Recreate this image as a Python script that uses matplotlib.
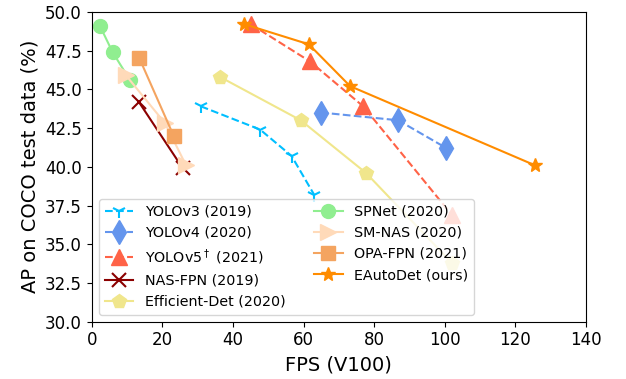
import matplotlib
matplotlib.use("Agg")
import matplotlib.pyplot as plt

# FPS / AP values
yolov3_fps = [30.9, 47.7, 56.6, 63.0]
yolov3_ap = [43.9, 42.4, 40.7, 38.2]
yolov4_fps = [64.9, 86.8, 100.5]
yolov4_ap = [43.5, 43.0, 41.2]
yolov5_fps = [45.0, 61.8, 76.9, 102.0]
yolov5_ap = [49.2, 46.8, 43.9, 36.9]
nasfpn_fps = [13.3, 25.8]
nasfpn_ap = [44.2, 39.9]
effdet_fps = [36.3, 59.2, 77.7, 102.0]
effdet_ap = [45.8, 43.0, 39.6, 33.8]
spnet_fps = [2.3, 5.9, 10.8]
spnet_ap = [49.1, 47.4, 45.6]
smnas_fps = [9.7, 20.8, 26.7]
smnas_ap = [45.9, 42.8, 40.1]
opafpn_fps = [13.5, 23.2]
opafpn_ap = [47.0, 42.0]
eautodet_fps = [43.2, 61.5, 73.2, 125.5]
eautodet_ap = [49.2, 47.9, 45.2, 40.1]

fig = plt.figure(figsize=(6.26, 3.79), dpi=100)
ax = fig.add_axes([0.1465, 0.151, 0.7895, 0.818])

ax.plot(yolov3_fps, yolov3_ap, '--', marker='1', color='deepskyblue', ms=10, mew=1.5, lw=1.5, label='YOLOv3 (2019)')
ax.plot(yolov4_fps, yolov4_ap, '--', marker='d', color='cornflowerblue', ms=12, lw=1.5, label='YOLOv4 (2020)')
ax.plot(yolov5_fps, yolov5_ap, '--', marker='^', color='tomato', ms=11, lw=1.5, label='YOLOv5$^\\dagger$ (2021)')
ax.plot(nasfpn_fps, nasfpn_ap, '-', marker='x', color='darkred', ms=10, mew=1.5, lw=1.5, label='NAS-FPN (2019)')
ax.plot(effdet_fps, effdet_ap, '-', marker='p', color='khaki', ms=10, lw=1.5, label='Efficient-Det (2020)')
ax.plot(spnet_fps, spnet_ap, '-', marker='o', color='lightgreen', ms=10, lw=1.5, label='SPNet (2020)')
ax.plot(smnas_fps, smnas_ap, '-', marker='>', color='peachpuff', ms=11, lw=1.5, label='SM-NAS (2020)')
ax.plot(opafpn_fps, opafpn_ap, '-', marker='s', color='sandybrown', ms=10, lw=1.5, label='OPA-FPN (2021)')
ax.plot(eautodet_fps, eautodet_ap, '-', marker='*', color='darkorange', ms=10, lw=1.5, label='EAutoDet (ours)')

ax.set_xlim(0, 140)
ax.set_ylim(30, 50)
ax.set_xticks(range(0, 141, 20))
ax.set_yticks([30.0, 32.5, 35.0, 37.5, 40.0, 42.5, 45.0, 47.5, 50.0])
ax.tick_params(labelsize=12)
ax.set_xlabel('FPS (V100)', fontsize=14)
ax.set_ylabel('AP on COCO test data (%)', fontsize=14)
ax.legend(loc='lower left', ncol=2, fontsize=10.3)

fig.savefig('out.png', dpi=100)
